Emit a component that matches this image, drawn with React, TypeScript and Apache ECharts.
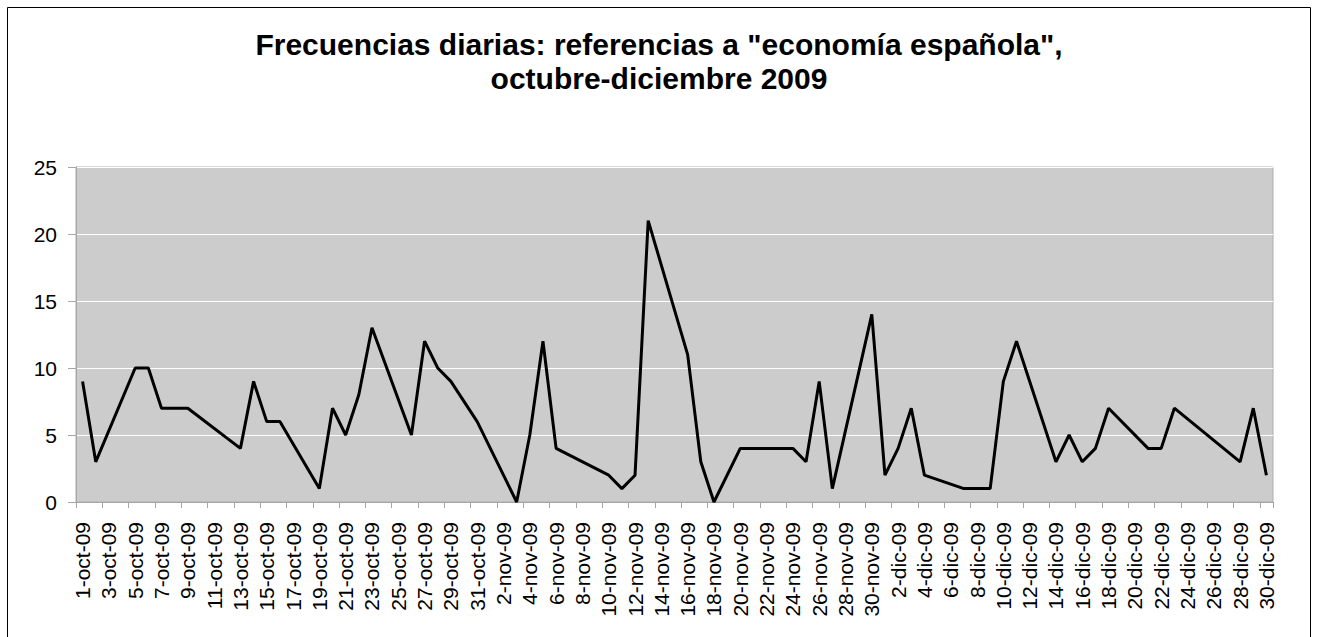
import React, { useEffect, useRef } from "react";
import * as echarts from "echarts";

const monthNames = ["oct", "nov", "dic"];
const monthDays = [31, 30, 30];

const octValues: (number | null)[] = [
  9, 3, null, null, 10, 10, 7, null, 7, null, null, null, 4, 9, 6, 6, null, null, 1, 7,
  5, 8, 13, null, null, 5, 12, 10, 9, null, 6,
];
const novValues: (number | null)[] = [
  null, 2, 0, 5, 12, 4, null, null, null, 2, 1, 2, 21, null, null, 11, 3, 0, null, 4,
  null, null, null, 4, 3, 9, 1, null, null, 14,
];
const dicValues: (number | null)[] = [
  2, 4, 7, 2, null, null, 1, null, 1, 9, 12, null, null, 3, 5, 3, 4, 7, null, null,
  4, 4, 7, null, null, null, null, 3, 7, 2,
];

const titleText = 'Frecuencias diarias: referencias a "economía española",\noctubre-diciembre 2009';
const yTicks = { min: 0, max: 25, interval: 5 };

const categories: string[] = [];
monthNames.forEach((m, i) => {
  for (let d = 1; d <= monthDays[i]; d++) categories.push(`${d}-${m}-09`);
});
const values = [...octValues, ...novValues, ...dicValues];

const FONT = 'Arial, "Liberation Sans", sans-serif';

export default function App() {
  const ref = useRef<HTMLDivElement>(null);
  useEffect(() => {
    if (!ref.current) return;
    const chart = echarts.init(ref.current, undefined, { renderer: "svg" });
    chart.setOption({
      animation: false,
      backgroundColor: "#ffffff",
      title: {
        text: titleText,
        left: 659,
        top: 27,
        padding: 0,
        textAlign: "center",
        textStyle: {
          fontFamily: FONT,
          fontSize: 30,
          fontWeight: "bold",
          color: "#000",
          lineHeight: 34,
        },
      },
      graphic: [
        {
          type: "rect",
          silent: true,
          shape: { x: 7.5, y: 7.5, width: 1303, height: 700 },
          style: { fill: "none", stroke: "#000", lineWidth: 1 },
        },
      ],
      grid: {
        left: 76,
        right: 44,
        top: 167,
        height: 335,
        show: true,
        backgroundColor: "#CCCCCC",
        borderColor: "#ADADAD",
        borderWidth: 1,
      },
      xAxis: {
        type: "category",
        data: categories,
        boundaryGap: true,
        axisLine: { show: true, lineStyle: { color: "#A6A6A6", width: 1 } },
        axisTick: { show: true, interval: 1, length: 6, lineStyle: { color: "#A6A6A6" } },
        axisLabel: {
          interval: 1,
          rotate: 90,
          margin: 20,
          fontSize: 21,
          fontFamily: FONT,
          color: "#000",
        },
        splitLine: { show: false },
      },
      yAxis: {
        type: "value",
        min: yTicks.min,
        max: yTicks.max,
        interval: yTicks.interval,
        axisLine: { show: true, lineStyle: { color: "#A6A6A6", width: 1 } },
        axisTick: { show: true, length: 8, lineStyle: { color: "#A6A6A6" } },
        axisLabel: {
          margin: 19,
          fontSize: 21,
          fontFamily: FONT,
          color: "#000",
        },
        splitLine: { show: true, lineStyle: { color: "#FFFFFF", width: 1 } },
      },
      series: [
        {
          type: "line",
          data: values,
          connectNulls: true,
          symbol: "none",
          lineStyle: { color: "#000", width: 3 },
        },
      ],
    });
    return () => chart.dispose();
  }, []);
  return (
    <div
      ref={ref}
      style={{ position: "fixed", left: 0, top: 0, width: 1317, height: 637 }}
    />
  );
}
